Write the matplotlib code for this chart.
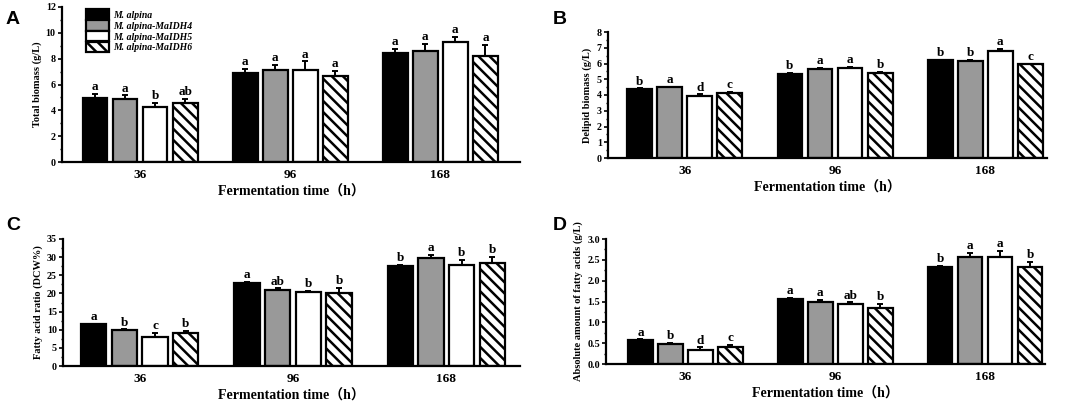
import numpy as np
import matplotlib
matplotlib.use("Agg")
import matplotlib.pyplot as plt
from matplotlib.ticker import MultipleLocator, FormatStrFormatter

plt.rcParams['font.family'] = ['Liberation Serif', 'Noto Sans CJK SC']
plt.rcParams['font.weight'] = 'bold'
plt.rcParams['hatch.linewidth'] = 1.8
plt.rcParams['hatch.color'] = 'black'

times = ['36', '96', '168']
strains = ['M. alpina', 'M. alpina-MaIDH4', 'M. alpina-MaIDH5', 'M. alpina-MaIDH6']

# rows = strains, cols = time points
total_biomass = [[4.93, 6.86, 8.44],
                 [4.90, 7.10, 8.62],
                 [4.28, 7.10, 9.29],
                 [4.54, 6.66, 8.18]]
total_err = [[0.37, 0.37, 0.31],
             [0.25, 0.40, 0.52],
             [0.30, 0.70, 0.41],
             [0.34, 0.41, 0.90]]
total_let = [['a', 'a', 'a'], ['a', 'a', 'a'], ['b', 'a', 'a'], ['ab', 'a', 'a']]

delipid = [[4.40, 5.36, 6.21],
           [4.49, 5.68, 6.15],
           [3.96, 5.72, 6.81],
           [4.15, 5.40, 5.94]]
delipid_err = [[0.03, 0.03, 0.03],
               [0.04, 0.05, 0.06],
               [0.08, 0.05, 0.10],
               [0.05, 0.05, 0.06]]
delipid_let = [['b', 'b', 'b'], ['a', 'a', 'b'], ['d', 'a', 'a'], ['c', 'b', 'c']]

fa_ratio = [[11.5, 22.9, 27.5],
            [9.8, 20.9, 29.7],
            [8.0, 20.3, 27.7],
            [9.1, 20.0, 28.5]]
fa_ratio_err = [[0.2, 0.3, 0.3],
                [0.3, 0.5, 0.9],
                [1.1, 0.5, 1.5],
                [0.6, 1.5, 1.5]]
fa_ratio_let = [['a', 'a', 'b'], ['b', 'ab', 'a'], ['c', 'b', 'b'], ['b', 'b', 'b']]

fa_amount = [[0.58, 1.57, 2.33],
             [0.49, 1.50, 2.58],
             [0.34, 1.44, 2.58],
             [0.42, 1.34, 2.32]]
fa_amount_err = [[0.01, 0.02, 0.02],
                 [0.02, 0.04, 0.08],
                 [0.06, 0.04, 0.14],
                 [0.04, 0.10, 0.14]]
fa_amount_let = [['a', 'a', 'b'], ['b', 'a', 'a'], ['d', 'ab', 'a'], ['c', 'b', 'b']]

colors = ['black', '#999999', 'white', 'white']
hatches = [None, None, None, '\\\\\\']

fig = plt.figure(figsize=(10.84, 4.05), dpi=100)
W, H = 1084, 405


def px_axes(l, r, t, b):
    return fig.add_axes([l / W, 1 - b / H, (r - l) / W, (b - t) / H])


def panel(ax, vals, errs, lets, ylabel, ymax, major, xlim, legend=False):
    x = np.arange(len(times))
    width = 0.165
    for i in range(4):
        pos = x + (i - 1.5) * 0.2
        v = np.array(vals[i])
        e = np.array(errs[i])
        ax.bar(pos, v, width, color=colors[i], edgecolor='black', linewidth=1.6,
               hatch=hatches[i], label=strains[i], zorder=2)
        ax.errorbar(pos, v, yerr=[np.zeros_like(e), e], fmt='none', ecolor='black',
                    elinewidth=1.4, capsize=2.5, capthick=1.4, zorder=1)
        for p, top, lab in zip(pos, v + e, lets[i]):
            ax.annotate(lab, (p, top), xytext=(0, 0.5), textcoords='offset points',
                        ha='center', va='bottom', fontsize=9.5, fontweight='bold')
    ax.set_xlim(*xlim)
    ax.set_ylim(0, ymax)
    ax.set_xticks(x)
    ax.set_xticklabels(times, fontsize=9.5, fontweight='bold')
    ax.tick_params(axis='x', length=0, pad=5)
    ax.yaxis.set_major_locator(MultipleLocator(major))
    ax.yaxis.set_minor_locator(MultipleLocator(major / 2))
    ax.tick_params(axis='y', which='major', length=3, width=1.2, labelsize=7.2, pad=1.5)
    ax.tick_params(axis='y', which='minor', length=1.8, width=1.0)
    for s in ['top', 'right']:
        ax.spines[s].set_visible(False)
    for s in ['left', 'bottom']:
        ax.spines[s].set_linewidth(1.6)
    ax.set_ylabel(ylabel, fontsize=7.5, fontweight='bold', labelpad=3)
    ax.set_xlabel('Fermentation time（h）', fontsize=10, fontweight='bold', labelpad=3)
    if legend:
        ax.legend(loc='upper left', bbox_to_anchor=(0.045, 1.01), frameon=False,
                  prop={'style': 'italic', 'weight': 'bold', 'size': 7},
                  handlelength=2.35, handleheight=1.25, labelspacing=0.05,
                  handletextpad=0.4, borderaxespad=0)


axA = px_axes(62, 520, 7, 162)
panel(axA, total_biomass, total_err, total_let, 'Total biomass (g/L)', 12, 2,
      (-0.52, 2.53), legend=True)
axB = px_axes(608, 1047, 32, 158)
panel(axB, delipid, delipid_err, delipid_let, 'Delipid biomass (g/L)', 8, 1,
      (-0.51, 2.41))
axC = px_axes(63, 520, 239, 366)
panel(axC, fa_ratio, fa_ratio_err, fa_ratio_let, 'Fatty acid ratio (DCW%)', 35, 5,
      (-0.5, 2.48))
axD = px_axes(606, 1045, 239, 364)
panel(axD, fa_amount, fa_amount_err, fa_amount_let, 'Absolute amount of fatty acids (g/L)',
      3.0, 0.5, (-0.53, 2.40))
axD.yaxis.set_major_formatter(FormatStrFormatter('%.1f'))

for lab, (px, py) in zip('ABCD', [(6, 19), (553, 19), (6, 226), (553, 226)]):
    fig.text(px / W, 1 - py / H, lab, fontsize=14, fontweight='bold',
             family='Liberation Sans', va='center', ha='left')

fig.savefig('out.png', dpi=100)
